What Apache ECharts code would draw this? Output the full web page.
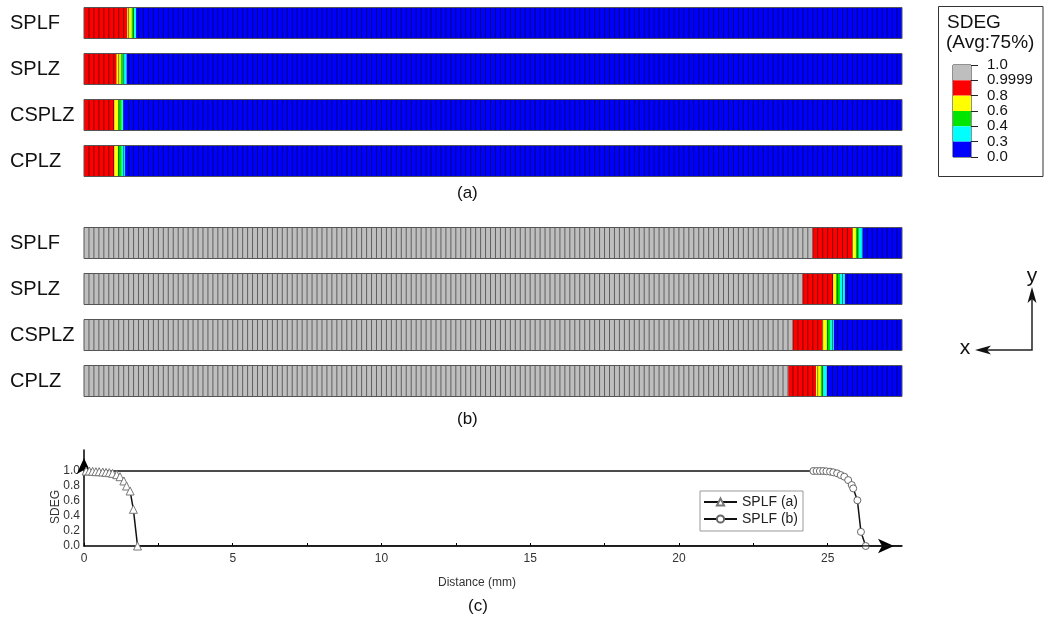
<!DOCTYPE html>
<html><head><meta charset="utf-8">
<script src="https://cdn.jsdelivr.net/npm/echarts@6/dist/echarts.min.js"></script>
<style>html,body{margin:0;padding:0;background:#fff}#c{width:1045px;height:626px}</style>
</head><body><div id="c"></div>
<script>
// ---------- data ----------
const STRIP_NAMES = ['SPLF', 'SPLZ', 'CSPLZ', 'CPLZ'];
const STRIP_LENGTH_MM = 27.5;
const ELEMENT_SIZE_MM = 1 / 6;

// panel (a): end position (mm) of each colour band along the strip, and its SDEG level
const PANEL_A_SDEG  = [0.9, 0.7, 0.5, 0.35, 0.0];
const PANEL_A_SPLF  = [1.46, 1.60, 1.69, 1.75, 27.5];
const PANEL_A_SPLZ  = [1.10, 1.24, 1.32, 1.43, 27.5];
const PANEL_A_CSPLZ = [1.02, 1.16, 1.27, 1.32, 27.5];
const PANEL_A_CPLZ  = [1.02, 1.14, 1.27, 1.38, 27.5];

// panel (b)
const PANEL_B_SDEG  = [1.0, 0.9, 0.7, 0.5, 0.35, 0.0];
const PANEL_B_SPLF  = [24.50, 25.83, 25.95, 26.06, 26.18, 27.5];
const PANEL_B_SPLZ  = [24.16, 25.19, 25.28, 25.42, 25.58, 27.5];
const PANEL_B_CSPLZ = [23.83, 24.83, 24.97, 25.10, 25.21, 27.5];
const PANEL_B_CPLZ  = [23.68, 24.61, 24.77, 24.85, 24.97, 27.5];

// contour legend
const LEGEND_TICKS = ['1.0', '0.9999', '0.8', '0.6', '0.4', '0.3', '0.0'];
const LEVEL_BOUNDS = [1.0, 0.9999, 0.8, 0.6, 0.4, 0.3, 0.0];
const LEVEL_COLORS = ['#bebebe', '#ff0000', '#ffff00', '#00e600', '#00ffff', '#0000ff'];

// panel (c): SDEG along the SPLF strip
const SPLF_A_X = [0.07, 0.18, 0.29, 0.40, 0.51, 0.63, 0.74, 0.85, 0.96, 1.10, 1.21, 1.34, 1.43, 1.55, 1.66, 1.80];
const SPLF_A_Y = [1.0, 1.0, 0.996, 0.991, 0.991, 0.987, 0.982, 0.978, 0.969, 0.951, 0.924, 0.867, 0.80, 0.733, 0.489, 0.0];
const SPLF_A_TAIL = [[27.5, 0.0]];
const SPLF_B_HEAD = [[0, 1.0]];
const SPLF_B_X = [24.52, 24.63, 24.74, 24.85, 24.96, 25.08, 25.19, 25.32, 25.44, 25.56, 25.69, 25.81, 25.86, 26.00, 26.12, 26.28];
const SPLF_B_Y = [1.0, 1.0, 1.0, 1.0, 0.996, 0.991, 0.982, 0.969, 0.946, 0.924, 0.879, 0.813, 0.768, 0.61, 0.188, 0.0];
const X_TICKS = [0, 5, 10, 15, 20, 25];
const X_TICK_MARKS = [0, 2.5, 5, 7.5, 10, 12.5, 15, 17.5, 20, 22.5, 25];
const Y_TICKS = [0, 0.2, 0.4, 0.6, 0.8, 1.0];

// ---------- build ----------
const FONT = 'Liberation Sans, Arial, Helvetica, sans-serif';
const STRIP_FILL = 31 / 46;

function segs(ends, levels, row) {
  let s = 0;
  return ends.map((e, i) => { const d = [s, e, levels[i], row]; s = e; return d; });
}
const dataA = [].concat(
  segs(PANEL_A_SPLF, PANEL_A_SDEG, 0), segs(PANEL_A_SPLZ, PANEL_A_SDEG, 1),
  segs(PANEL_A_CSPLZ, PANEL_A_SDEG, 2), segs(PANEL_A_CPLZ, PANEL_A_SDEG, 3));
const dataB = [].concat(
  segs(PANEL_B_SPLF, PANEL_B_SDEG, 0), segs(PANEL_B_SPLZ, PANEL_B_SDEG, 1),
  segs(PANEL_B_CSPLZ, PANEL_B_SDEG, 2), segs(PANEL_B_CPLZ, PANEL_B_SDEG, 3));

function renderSeg(params, api) {
  const row = api.value(3);
  const p0 = api.coord([api.value(0), row]);
  const p1 = api.coord([api.value(1), row]);
  const h = api.size([0, 1])[1] * STRIP_FILL;
  return { type: 'rect', shape: { x: p0[0], y: p0[1] - h / 2, width: p1[0] - p0[0], height: h },
           style: { fill: api.visual('color'), stroke: null } };
}
function renderMesh(params, api) {
  const row = api.value(0);
  const h = api.size([0, 1])[1] * STRIP_FILL;
  const n = Math.round(STRIP_LENGTH_MM / ELEMENT_SIZE_MM);
  const c0 = api.coord([0, row]);
  const y0 = c0[1] - h / 2;
  const children = [];
  for (let k = 1; k < n; k++) {
    const x = api.coord([k * ELEMENT_SIZE_MM, row])[0];
    children.push({ type: 'line', shape: { x1: x, y1: y0, x2: x, y2: y0 + h },
                    style: { stroke: 'rgba(0,0,0,0.5)', lineWidth: 1 } });
  }
  const xb = api.coord([STRIP_LENGTH_MM, row])[0];
  children.push({ type: 'rect', shape: { x: c0[0], y: y0, width: xb - c0[0], height: h },
                  style: { fill: 'none', stroke: '#555', lineWidth: 1 } });
  return { type: 'group', children };
}

const pieces = LEVEL_COLORS.map((c, i) => {
  if (i === 0) return { gte: LEVEL_BOUNDS[1], color: c };
  if (i === LEVEL_COLORS.length - 1) return { lt: LEVEL_BOUNDS[i], color: c };
  return { gte: LEVEL_BOUNDS[i + 1], lt: LEVEL_BOUNDS[i], color: c };
});

const stripYAxis = (gi) => ({
  gridIndex: gi, type: 'category', data: STRIP_NAMES, inverse: true,
  axisLine: { show: false }, axisTick: { show: false }, splitLine: { show: false },
  axisLabel: { align: 'left', margin: 74, fontSize: 20, color: '#111', fontFamily: FONT }
});
const hiddenX = (gi) => ({ gridIndex: gi, type: 'value', min: 0, max: STRIP_LENGTH_MM, show: false });

const option = {
  animation: false,
  textStyle: { fontFamily: FONT },
  grid: [
    { left: 84, width: 818, top: 0, height: 184 },
    { left: 84, width: 818, top: 220, height: 184 },
    { left: 84, width: 818, top: 450, height: 96 },
    { left: 953, width: 18, top: 65, height: 92, show: true, borderColor: '#222', borderWidth: 1, backgroundColor: 'transparent' }
  ],
  xAxis: [
    hiddenX(0), hiddenX(1),
    { gridIndex: 2, type: 'value', min: 0, max: STRIP_LENGTH_MM,
      axisLine: { show: true, symbol: ['none', 'arrow'], symbolSize: [11, 16], symbolOffset: [0, -8],
                  lineStyle: { color: '#000', width: 1.5 } },
      axisTick: { show: true, inside: true, length: 3, customValues: X_TICK_MARKS, lineStyle: { color: '#000' } },
      axisLabel: { customValues: X_TICKS, fontSize: 12, color: '#333', margin: 7, fontFamily: FONT },
      splitLine: { show: false },
      name: 'Distance (mm)', nameLocation: 'middle', nameGap: 31,
      nameTextStyle: { fontSize: 12, color: '#333', padding: [0, 32, 0, 0], fontFamily: FONT } },
    { gridIndex: 3, type: 'category', data: [''], show: false }
  ],
  yAxis: [
    stripYAxis(0), stripYAxis(1),
    { gridIndex: 2, type: 'value', min: 0, max: 1.28,
      axisLine: { show: true, symbol: ['none', 'arrow'], symbolSize: [11, 16], symbolOffset: [0, -8],
                  lineStyle: { color: '#000', width: 1.5 } },
      axisTick: { show: false },
      axisLabel: { customValues: Y_TICKS, formatter: v => Number(v).toFixed(1), fontSize: 12, color: '#333', margin: 4, fontFamily: FONT },
      splitLine: { show: false },
      name: 'SDEG', nameLocation: 'middle', nameRotate: 90, nameGap: 22, nameMoveOverlap: false,
      nameTextStyle: { fontSize: 12, color: '#333', padding: [0, 18, 0, 0], fontFamily: FONT } },
    { gridIndex: 3, type: 'value', min: 0, max: 6, interval: 1, inverse: true, position: 'right',
      axisLine: { show: false },
      axisTick: { show: true, length: 7, lineStyle: { color: '#222' } },
      axisLabel: { formatter: v => LEGEND_TICKS[v], fontSize: 15, color: '#111', margin: 16, fontFamily: FONT },
      splitLine: { show: false } }
  ],
  visualMap: { type: 'piecewise', show: false, seriesIndex: [0, 2], dimension: 2, pieces },
  legend: {
    data: ['SPLF (a)', 'SPLF (b)'], orient: 'vertical', left: 700, top: 491,
    itemWidth: 33, itemHeight: 9, itemGap: 3, padding: [4, 5, 5, 3],
    borderColor: '#999', borderWidth: 1, backgroundColor: '#fff',
    textStyle: { fontSize: 14, color: '#222', fontFamily: FONT }
  },
  series: [
    { type: 'custom', xAxisIndex: 0, yAxisIndex: 0, data: dataA, encode: { x: [0, 1], y: 3 }, renderItem: renderSeg, silent: true },
    { type: 'custom', xAxisIndex: 0, yAxisIndex: 0, data: STRIP_NAMES.map((n, i) => [i]), encode: { y: 0 }, renderItem: renderMesh, silent: true, z: 3 },
    { type: 'custom', xAxisIndex: 1, yAxisIndex: 1, data: dataB, encode: { x: [0, 1], y: 3 }, renderItem: renderSeg, silent: true },
    { type: 'custom', xAxisIndex: 1, yAxisIndex: 1, data: STRIP_NAMES.map((n, i) => [i]), encode: { y: 0 }, renderItem: renderMesh, silent: true, z: 3 },
    { name: 'SPLF (a)', type: 'line', xAxisIndex: 2, yAxisIndex: 2,
      data: SPLF_A_X.map((x, i) => [x, SPLF_A_Y[i]]).concat(SPLF_A_TAIL.map(p => ({ value: p, symbol: 'none' }))),
      symbol: 'triangle', symbolSize: 8, showAllSymbol: true,
      lineStyle: { color: '#111', width: 1.5 },
      itemStyle: { color: '#fff', borderColor: '#777', borderWidth: 1 }, z: 4 },
    { name: 'SPLF (b)', type: 'line', xAxisIndex: 2, yAxisIndex: 2,
      data: SPLF_B_HEAD.map(p => ({ value: p, symbol: 'none' })).concat(SPLF_B_X.map((x, i) => [x, SPLF_B_Y[i]])),
      symbol: 'circle', symbolSize: 7, showAllSymbol: true,
      lineStyle: { color: '#111', width: 1.5 },
      itemStyle: { color: '#fff', borderColor: '#666', borderWidth: 1 }, z: 3 }
  ].concat(LEVEL_COLORS.map(c => ({
    type: 'bar', xAxisIndex: 3, yAxisIndex: 3, stack: 'lg', data: [1], barWidth: '100%',
    itemStyle: { color: c }, silent: true
  }))),
  graphic: [
    { type: 'text', left: 457, top: 185, style: { text: '(a)', fontSize: 17, fill: '#111', fontFamily: FONT } },
    { type: 'text', left: 457, top: 411, style: { text: '(b)', fontSize: 17, fill: '#111', fontFamily: FONT } },
    { type: 'text', left: 468, top: 598, style: { text: '(c)', fontSize: 17, fill: '#111', fontFamily: FONT } },
    { type: 'rect', shape: { x: 938.5, y: 6.5, width: 104.5, height: 170 }, style: { fill: 'none', stroke: '#333', lineWidth: 1 } },
    { type: 'text', x: 947, y: 23, style: { text: 'SDEG', fontSize: 19, fill: '#111', fontFamily: FONT, verticalAlign: 'middle' } },
    { type: 'text', x: 946, y: 43, style: { text: '(Avg:75%)', fontSize: 19, fill: '#111', fontFamily: FONT, verticalAlign: 'middle' } },
    { type: 'polyline', shape: { points: [[1032, 295], [1032, 350], [982, 350]] }, style: { stroke: '#222', lineWidth: 1.5, fill: null } },
    { type: 'polygon', shape: { points: [[1032, 287], [1036.5, 303], [1032, 299], [1027.5, 303]] }, style: { fill: '#111' } },
    { type: 'polygon', shape: { points: [[975, 350], [991, 345.5], [987, 350], [991, 354.5]] }, style: { fill: '#111' } },
    { type: 'text', x: 1032, y: 276, style: { text: 'y', fontSize: 21, fill: '#111', fontFamily: FONT, align: 'center', verticalAlign: 'middle' } },
    { type: 'text', x: 965, y: 348, style: { text: 'x', fontSize: 21, fill: '#111', fontFamily: FONT, align: 'center', verticalAlign: 'middle' } }
  ]
};
const chart = echarts.init(document.getElementById('c'), null, { renderer: 'canvas' });
chart.setOption(option);
</script></body></html>
